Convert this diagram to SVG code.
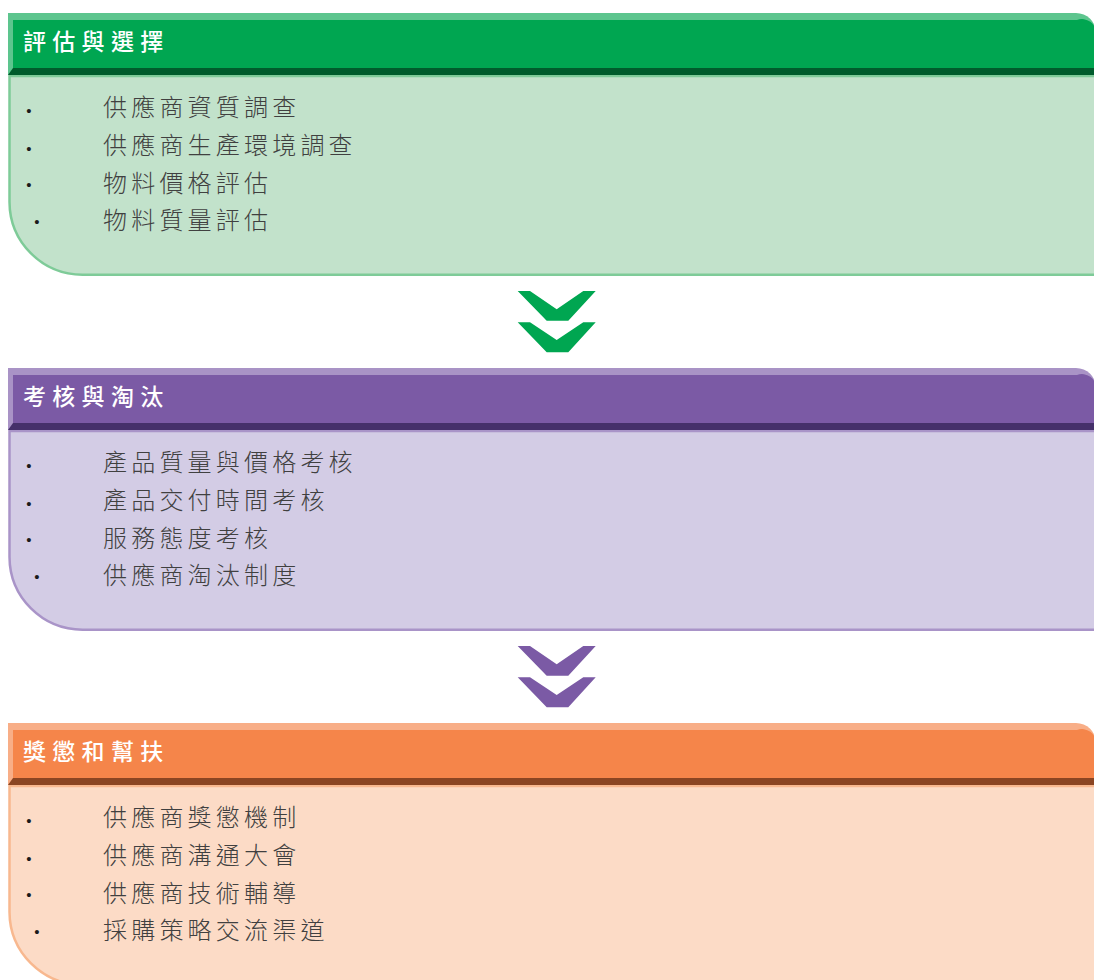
<svg xmlns="http://www.w3.org/2000/svg" width="1094" height="980" viewBox="0 0 1094 980">
<style>
.hd{font-family:"Noto Sans CJK TC","Noto Sans CJK SC",sans-serif;font-size:23px;font-weight:500;fill:#ffffff;letter-spacing:6.3px}
.it{font-family:"Noto Sans CJK TC","Noto Sans CJK SC",sans-serif;font-size:24px;font-weight:300;fill:#404040;letter-spacing:4.2px}
.bl{font-family:"Liberation Sans",sans-serif;font-size:15px;fill:#1a1a1a;text-anchor:middle}
.g .strip{fill:#5DC58E}.g .main{fill:#00A651}.g .dark{fill:#005C2C}.g .panel{fill:#C2E2CB;stroke:#7ECB98}
.p .strip{fill:#A993C6}.p .main{fill:#7B5AA5}.p .dark{fill:#45306A}.p .panel{fill:#D3CCE5;stroke:#A994C8}
.o .strip{fill:#F8AE87}.o .main{fill:#F5854A}.o .dark{fill:#8B4522}.o .panel{fill:#FCDBC6;stroke:#F8B88F}
.panel{stroke-width:2.5}
</style>

<g id="node-1" class="g">
<path class="panel" d="M9.5,76 V202 A73,73 0 0 0 82.5,274.7 H1100 V76 Z"/>
<path class="strip" d="M8,13 H1076 A20,20 0 0 1 1096,33 V75 H8 Z"/>
<path class="main" d="M13,20 H1077 A14,14 0 0 1 1096,34 V68 H13 Z"/>
<path class="dark" d="M8,75 L13,68 H1100 V75 Z"/>
<text class="hd" x="23" y="50">評估與選擇</text>
<text class="bl" x="29" y="115.5">•</text>
<text class="bl" x="29" y="153.5">•</text>
<text class="bl" x="29" y="189.5">•</text>
<text class="bl" x="37" y="226.5">•</text>
<text class="it" x="103" y="116">供應商資質調查</text>
<text class="it" x="103" y="154">供應商生產環境調查</text>
<text class="it" x="103" y="192">物料價格評估</text>
<text class="it" x="103" y="229">物料質量評估</text>
</g>

<g id="node-2" class="p" transform="translate(0,355)">
<path class="panel" d="M9.5,76 V202 A73,73 0 0 0 82.5,274.7 H1100 V76 Z"/>
<path class="strip" d="M8,13 H1076 A20,20 0 0 1 1096,33 V75 H8 Z"/>
<path class="main" d="M13,20 H1077 A14,14 0 0 1 1096,34 V68 H13 Z"/>
<path class="dark" d="M8,75 L13,68 H1100 V75 Z"/>
<text class="hd" x="23" y="50">考核與淘汰</text>
<text class="bl" x="29" y="115.5">•</text>
<text class="bl" x="29" y="153.5">•</text>
<text class="bl" x="29" y="189.5">•</text>
<text class="bl" x="37" y="226.5">•</text>
<text class="it" x="103" y="116">產品質量與價格考核</text>
<text class="it" x="103" y="154">產品交付時間考核</text>
<text class="it" x="103" y="192">服務態度考核</text>
<text class="it" x="103" y="229">供應商淘汰制度</text>
</g>

<g id="node-3" class="o" transform="translate(0,710)">
<path class="panel" d="M9.5,76 V202 A73,73 0 0 0 82.5,274.7 H1100 V76 Z"/>
<path class="strip" d="M8,13 H1076 A20,20 0 0 1 1096,33 V75 H8 Z"/>
<path class="main" d="M13,20 H1077 A14,14 0 0 1 1096,34 V68 H13 Z"/>
<path class="dark" d="M8,75 L13,68 H1100 V75 Z"/>
<text class="hd" x="23" y="50">獎懲和幫扶</text>
<text class="bl" x="29" y="115.5">•</text>
<text class="bl" x="29" y="153.5">•</text>
<text class="bl" x="29" y="189.5">•</text>
<text class="bl" x="37" y="226.5">•</text>
<text class="it" x="103" y="116">供應商獎懲機制</text>
<text class="it" x="103" y="154">供應商溝通大會</text>
<text class="it" x="103" y="192">供應商技術輔導</text>
<text class="it" x="103" y="229">採購策略交流渠道</text>
</g>

<g id="connectors">
<g fill="#00A651">
<polygon points="517.7,291 530,291 556.7,309.3 583.3,291 595.7,291 568.3,320.7 546.7,320.7"/>
<polygon points="517.7,322.3 530,322.3 556.7,340 583.3,322.3 595.7,322.3 568.3,352.3 546.7,352.3"/>
</g>
<g fill="#7B5AA5" transform="translate(0,355)">
<polygon points="517.7,291 530,291 556.7,309.3 583.3,291 595.7,291 568.3,320.7 546.7,320.7"/>
<polygon points="517.7,322.3 530,322.3 556.7,340 583.3,322.3 595.7,322.3 568.3,352.3 546.7,352.3"/>
</g>
</g>
</svg>
